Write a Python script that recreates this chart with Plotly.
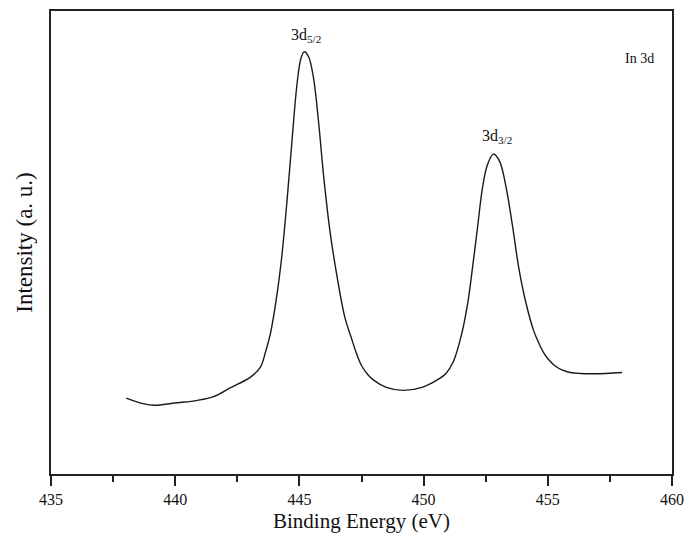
import plotly.graph_objects as go

# Binding energy (eV) and intensity (arbitrary units)
energy = [438.03, 438.70, 439.17, 439.97, 440.90, 441.57, 442.23, 443.03, 443.43,
          443.63, 443.83, 444.10, 444.30, 444.50, 444.70, 444.90, 445.06, 445.19,
          445.37, 445.57, 445.77, 445.97, 446.23, 446.50, 446.83, 447.10, 447.30,
          447.50, 447.75, 448.00, 448.50, 449.17, 449.97, 450.63, 450.90, 451.20,
          451.50, 451.77, 451.97, 452.17, 452.37, 452.57, 452.81, 453.06, 453.30,
          453.57, 453.83, 454.10, 454.43, 454.63, 454.83, 455.03, 455.30, 455.57,
          455.90, 456.30, 456.90, 457.99]
intensity = [76.3, 70.7, 69.0, 71.3, 74.0, 78.0, 86.7, 97.3, 107.3,
             122.0, 140.7, 180.7, 220.7, 274.0, 334.0, 390.7, 417.3, 424.0,
             419.0, 397.3, 354.0, 300.7, 244.0, 200.7, 157.3, 136.0, 121.0,
             109.0, 100.0, 94.0, 87.0, 84.0, 87.3, 95.7, 101.0, 113.0,
             137.3, 170.7, 207.3, 247.3, 287.3, 310.7, 321.3, 314.0, 290.7,
             250.7, 207.3, 174.0, 144.0, 132.0, 122.0, 115.0, 108.5, 104.5,
             102.0, 101.0, 100.7, 102.0]

x_ticks = [435, 440, 445, 450, 455, 460]
peak_labels = ["3d<sub>5/2</sub>", "3d<sub>3/2</sub>"]
peak_label_x = [445.26, 452.94]
peak_label_y = [440, 339]

font_family = "Liberation Serif"

fig = go.Figure()
fig.add_trace(go.Scatter(x=energy, y=intensity, mode="lines",
                         line=dict(color="#1a1a1a", width=1.4, shape="spline", smoothing=1.0),
                         showlegend=False, hoverinfo="skip"))

for txt, xx, yy in zip(peak_labels, peak_label_x, peak_label_y):
    fig.add_annotation(x=xx, y=yy, text=txt, showarrow=False,
                       font=dict(family=font_family, size=16, color="#111"),
                       xanchor="center", yanchor="middle")

fig.add_annotation(x=458.7, y=417, text="In 3d", showarrow=False,
                   font=dict(family=font_family, size=14, color="#111"),
                   xanchor="center", yanchor="middle")

fig.update_layout(
    width=693, height=544,
    margin=dict(l=51, r=15, t=9, b=70),
    paper_bgcolor="white", plot_bgcolor="white",
    font=dict(family=font_family, color="#111"),
    xaxis=dict(range=[435, 460], tickvals=x_ticks, ticktext=[str(v) for v in x_ticks],
               ticks="outside", ticklen=10, tickwidth=1.5, tickcolor="#222",
               minor=dict(dtick=2.5, tick0=435, ticks="outside", ticklen=6, tickwidth=1.5,
                          tickcolor="#222", showgrid=False),
               showline=True, linecolor="#222", linewidth=1.5, mirror=True,
               showgrid=False, zeroline=False,
               tickfont=dict(family=font_family, size=16, color="#111"),
               title=dict(text="Binding Energy (eV)", standoff=6,
                          font=dict(family=font_family, size=21, color="#111"))),
    yaxis=dict(range=[0, 465], showticklabels=False, ticks="",
               showline=True, linecolor="#222", linewidth=1.5, mirror=True,
               showgrid=False, zeroline=False,
               title=dict(text="Intensity (a. u.)", standoff=10,
                          font=dict(family=font_family, size=23, color="#111"))),
)

fig.write_html("out.html")
